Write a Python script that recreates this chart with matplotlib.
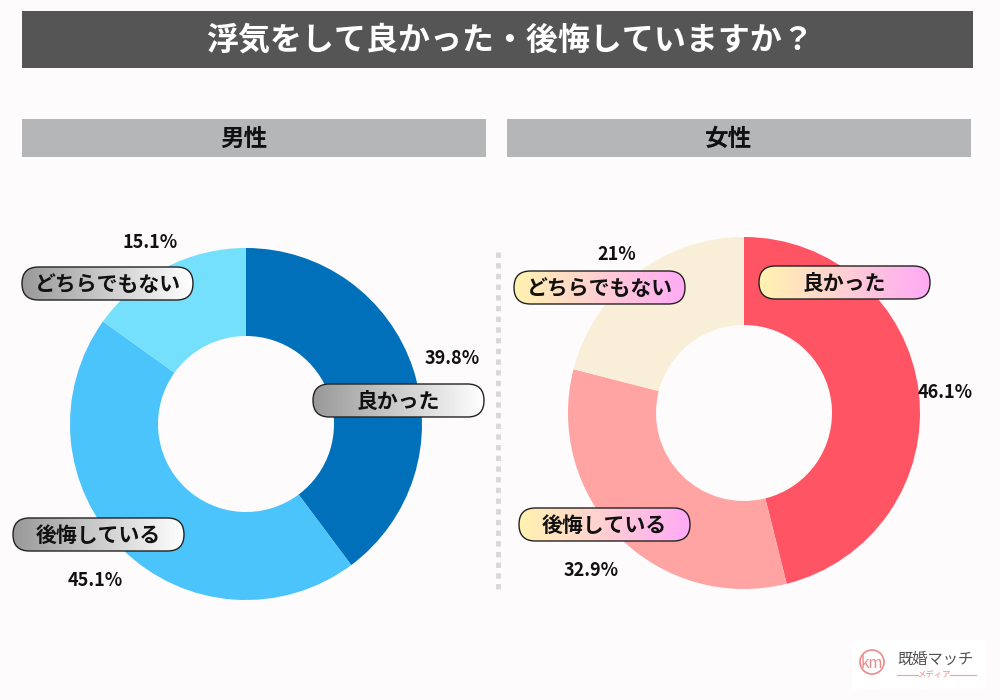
import matplotlib
matplotlib.use("Agg")
import matplotlib.pyplot as plt
import numpy as np
from matplotlib.patches import FancyBboxPatch, Rectangle, Circle
from matplotlib.lines import Line2D

plt.rcParams['font.family'] = ['Noto Sans CJK JP', 'DejaVu Sans']

# ---- data ----
title = "浮気をして良かった・後悔していますか？"
groups = ["男性", "女性"]
categories = ["良かった", "後悔している", "どちらでもない"]
male_values = [39.8, 45.1, 15.1]
female_values = [46.1, 32.9, 21]
male_labels = ["39.8%", "45.1%", "15.1%"]
female_labels = ["46.1%", "32.9%", "21%"]
male_colors = ["#0070bb", "#4bc3fb", "#74e0fb"]
female_colors = ["#ff5464", "#ffa3a3", "#f9efd9"]

BG = "#fdfbfc"
W, H = 1000, 700
fig = plt.figure(figsize=(10, 7), dpi=100, facecolor=BG)

# overlay axes in pixel coordinates (y down)
ov = fig.add_axes([0, 0, 1, 1], zorder=0)
ov.set_xlim(0, W)
ov.set_ylim(H, 0)
ov.axis("off")
ov.set_facecolor(BG)

# title bar
ov.add_patch(Rectangle((22, 11), 951, 57, facecolor="#555555", edgecolor="none"))
ov.text(510, 41, title, color="white", fontsize=23, fontweight="bold",
        ha="center", va="center")

# headers
for x0, g in zip([22, 507], groups):
    ov.add_patch(Rectangle((x0, 119), 464, 38, facecolor="#b5b6b8", edgecolor="none"))
    ov.text(x0 + 222, 139, g, color="#111111", fontsize=17, fontweight="bold",
            ha="center", va="center")

# dotted divider
ov.add_line(Line2D([498, 498], [252, 592], color="#d8d8d8", lw=3.5,
                   linestyle=(0, (1.1, 1.1))))


def donut(cx, cy, r, values, colors):
    ax = fig.add_axes([(cx - r) / W, (H - cy - r) / H, 2 * r / W, 2 * r / H], zorder=1)
    ax.pie(values, colors=colors, startangle=90, counterclock=False, radius=1,
           wedgeprops=dict(width=0.5, edgecolor="none"))
    ax.set_xlim(-1, 1)
    ax.set_ylim(-1, 1)
    ax.set_aspect("equal")
    ax.axis("off")
    return ax


donut(246, 424, 176, male_values, male_colors)
donut(744, 413, 176, female_values, female_colors)

# top overlay for labels
top = fig.add_axes([0, 0, 1, 1], zorder=3)
top.set_xlim(0, W)
top.set_ylim(H, 0)
top.axis("off")
top.patch.set_alpha(0)


def pill(x0, y0, w, h, text, c_left, c_right):
    style = f"round,pad=0,rounding_size={h/2}"
    patch = FancyBboxPatch((x0, y0), w, h, boxstyle=style,
                           facecolor="none", edgecolor="#222222", lw=1.0, zorder=5)
    top.add_patch(patch)
    grad = np.linspace(0, 1, 256)
    c1 = np.array(matplotlib.colors.to_rgb(c_left))
    c2 = np.array(matplotlib.colors.to_rgb(c_right))
    img = c1[None, :] * (1 - grad[:, None]) + c2[None, :] * grad[:, None]
    img = img[None, :, :]
    im = top.imshow(img, extent=(x0, x0 + w, y0 + h, y0), aspect="auto", zorder=4,
                    interpolation="bilinear")
    clip = FancyBboxPatch((x0, y0), w, h, boxstyle=style,
                          facecolor="none", edgecolor="none", transform=top.transData)
    top.add_patch(clip)
    im.set_clip_path(clip)
    top.text(x0 + w / 2, y0 + h / 2 + 1, text, fontsize=15, fontweight="bold",
             color="#111111", ha="center", va="center", zorder=6)


male_grad = ("#999999", "#ffffff")
fem_grad = ("#fff3b0", "#ffaaf6")

# male boxes: 良かった, 後悔している, どちらでもない
male_boxes = [(313, 384), (13, 518), (22, 267)]
male_pct_pos = [(452, 359), (95, 581), (150, 243)]
for (bx, by), cat in zip(male_boxes, categories):
    pill(bx, by, 171, 33, cat, *male_grad)
for (px, py), lab in zip(male_pct_pos, male_labels):
    top.text(px, py, lab, fontsize=13, fontweight="bold", color="#111111",
             ha="center", va="center", zorder=6)

female_boxes = [(759, 266), (519, 508), (514, 271)]
female_pct_pos = [(945, 393), (591, 570), (617, 254)]
for (bx, by), cat in zip(female_boxes, categories):
    pill(bx, by, 171, 33, cat, *fem_grad)
for (px, py), lab in zip(female_pct_pos, female_labels):
    top.text(px, py, lab, fontsize=13, fontweight="bold", color="#111111",
             ha="center", va="center", zorder=6)

# logo
top.add_patch(FancyBboxPatch((852, 640), 134, 50, boxstyle="round,pad=0,rounding_size=4",
                             facecolor="white", edgecolor="none", zorder=4))
top.add_patch(Circle((872, 662), 12, facecolor="none", edgecolor="#f08a8a", lw=1.2, zorder=5))
top.text(872, 663, "km", fontsize=11, color="#f08a8a", ha="center", va="center", zorder=6)
top.text(935, 659, "既婚マッチ", fontsize=11, color="#555050", ha="center", va="center", zorder=6)
top.add_line(Line2D([897, 918], [675, 675], color="#f4a0a0", lw=0.8, zorder=5))
top.add_line(Line2D([950, 976], [675, 675], color="#f4a0a0", lw=0.8, zorder=5))
top.text(934, 675, "メディア", fontsize=6, color="#f08a8a", ha="center", va="center", zorder=6)

fig.savefig("out.png", dpi=100, facecolor=BG)
